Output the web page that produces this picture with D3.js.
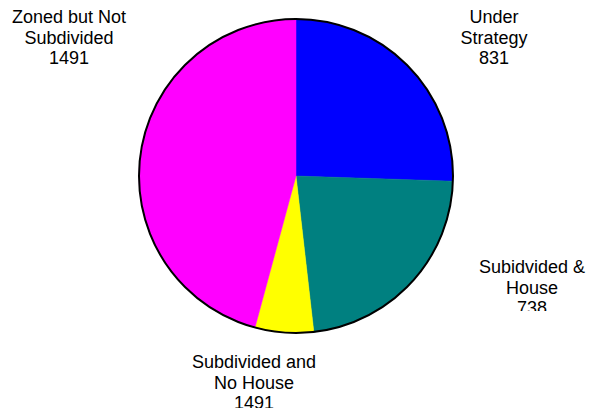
<!DOCTYPE html>
<html>
<head>
<meta charset="utf-8">
<script src="https://cdn.jsdelivr.net/npm/d3@7"></script>
<style>
  body { margin: 0; background: #fff; }
  svg text { font-family: "Liberation Sans", Arial, sans-serif; font-size: 18px; fill: #000; }
</style>
</head>
<body>
<div id="chart"></div>
<script>
// slice sizes (clockwise from 12 o'clock)
const categories = ['Under Strategy', 'Subidvided & House', 'Subdivided and No House', 'Zoned but Not Subdivided'];
const values = [831, 738, 196, 1491];
const colors = ['#0000ff', '#008080', '#ffff00', '#ff00ff'];
// label text as printed on the chart
const labelLines = [
  ['Under', 'Strategy', '831'],
  ['Subidvided &', 'House', '738'],
  ['Subdivided and', 'No House', '1491'],
  ['Zoned but Not', 'Subdivided', '1491']
];
const labelPos = [[494, 23], [532, 273], [254, 368], [69, 23]];

const width = 589, height = 412;
const cx = 296, cy = 176, radius = 157;

const svg = d3.select('#chart').append('svg')
  .attr('width', width)
  .attr('height', height);

const pie = d3.pie().sort(null).value(d => d);
const arc = d3.arc().innerRadius(0).outerRadius(radius);

const g = svg.append('g').attr('transform', `translate(${cx},${cy})`);

g.selectAll('path.slice')
  .data(pie(values))
  .enter().append('path')
  .attr('class', 'slice')
  .attr('d', arc)
  .attr('fill', (d, i) => colors[i])
  .attr('stroke', (d, i) => colors[i])
  .attr('stroke-width', 0.5);

// outer edge only
g.append('circle')
  .attr('r', radius)
  .attr('fill', 'none')
  .attr('stroke', '#000')
  .attr('stroke-width', 2);

// label boxes cut their last line
const clips = [null, [440, 240, 149, 71], [150, 340, 210, 68], null];
clips.forEach((c, i) => {
  if (!c) return;
  svg.append('clipPath').attr('id', 'clip' + i)
    .append('rect').attr('x', c[0]).attr('y', c[1]).attr('width', c[2]).attr('height', c[3]);
});

const labels = svg.selectAll('text.label')
  .data(labelLines)
  .enter().append('text')
  .attr('class', 'label')
  .attr('text-anchor', 'middle')
  .attr('clip-path', (d, i) => clips[i] ? `url(#clip${i})` : null)
  .attr('x', (d, i) => labelPos[i][0])
  .attr('y', (d, i) => labelPos[i][1]);

labels.selectAll('tspan')
  .data((d, i) => d.map(t => ({t, x: labelPos[i][0]})))
  .enter().append('tspan')
  .attr('x', d => d.x)
  .attr('dy', (d, j) => j === 0 ? 0 : 20.5)
  .text(d => d.t);
</script>
</body>
</html>
